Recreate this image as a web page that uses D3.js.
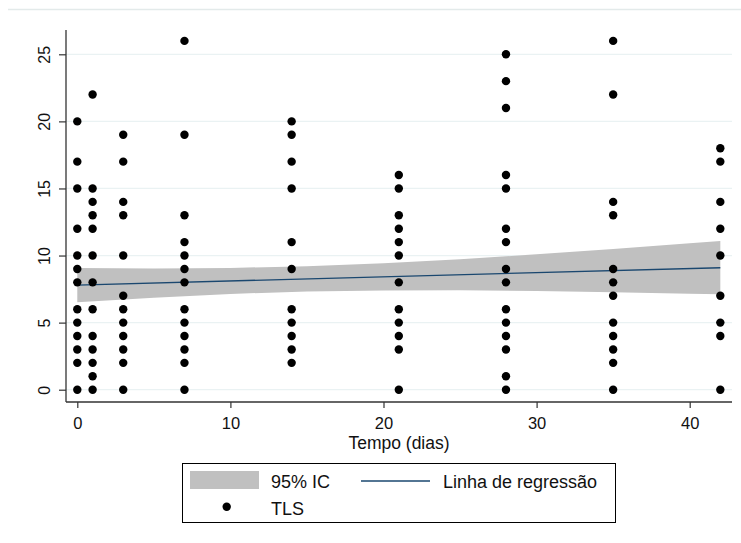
<!DOCTYPE html>
<html lang="pt">
  <head>
    <meta charset="UTF-8" />
    <title>TLS vs tempo</title>
    <style>
      body {
        margin: 0;
        background: #fff;
        font-family: "Liberation Sans", Arial, Helvetica, sans-serif;
      }
      svg {
        display: block;
      }
    </style>
  </head>
  <body>
    <script src="https://cdn.jsdelivr.net/npm/d3@7/dist/d3.min.js"></script>
    <script>
      // observation days and TLS values seen on each day
      var days = [0, 1, 3, 7, 14, 21, 28, 35, 42];
      var tlsByDay = [
        [20, 17, 15, 12, 10, 9, 8, 6, 5, 4, 3, 2, 0],
        [22, 15, 14, 13, 12, 10, 8, 6, 4, 3, 2, 1, 0],
        [19, 17, 14, 13, 10, 7, 6, 5, 4, 3, 2, 0],
        [26, 19, 13, 11, 10, 9, 8, 6, 5, 4, 3, 2, 0],
        [20, 19, 17, 15, 11, 9, 6, 5, 4, 3, 2],
        [16, 15, 13, 12, 11, 10, 8, 6, 5, 4, 3, 0],
        [25, 23, 21, 16, 15, 12, 11, 9, 8, 6, 5, 4, 3, 1, 0],
        [26, 22, 14, 13, 9, 8, 7, 5, 4, 3, 2, 0],
        [18, 17, 14, 12, 10, 7, 5, 4, 0]
      ];

      // regression line and 95% CI band
      var regX = [0, 42];
      var regY = [7.8, 9.09];
      var ciX = [0, 5, 10, 15, 20, 25, 30, 35, 40, 42];
      var ciLow = [6.52, 6.86, 7.14, 7.32, 7.4, 7.41, 7.35, 7.26, 7.15, 7.11];
      var ciHigh = [9.08, 9.04, 9.08, 9.2, 9.42, 9.73, 10.09, 10.48, 10.91, 11.08];

      var xTicks = [0, 10, 20, 30, 40];
      var yTicks = [0, 5, 10, 15, 20, 25];

      var W = 741, H = 543;
      var plotL = 66, plotR = 732, plotT = 30, plotB = 402;

      var svg = d3.select("body").append("svg")
        .attr("width", W)
        .attr("height", H);

      var x = d3.scaleLinear().domain([0, 40]).range([77.3, 689.7]);
      var y = d3.scaleLinear().domain([0, 25]).range([389.7, 54.3]);

      // faint frame line at top
      svg.append("line")
        .attr("x1", 8).attr("x2", W)
        .attr("y1", 9.5).attr("y2", 9.5)
        .attr("stroke", "#e3eaea")
        .attr("stroke-width", 1.5);

      // gridlines
      svg.selectAll("line.grid")
        .data(yTicks)
        .enter().append("line")
        .attr("class", "grid")
        .attr("x1", plotL).attr("x2", plotR)
        .attr("y1", function(d) { return y(d); })
        .attr("y2", function(d) { return y(d); })
        .attr("stroke", "#eaf2f3")
        .attr("stroke-width", 1.2);

      // CI band
      var ci = ciX.map(function(v, i) { return { x: v, lo: ciLow[i], hi: ciHigh[i] }; });
      svg.append("path")
        .datum(ci)
        .attr("fill", "#c0c0c0")
        .attr("d", d3.area()
          .x(function(d) { return x(d.x); })
          .y0(function(d) { return y(d.lo); })
          .y1(function(d) { return y(d.hi); }));

      // regression line
      svg.append("path")
        .datum(regX.map(function(v, i) { return [v, regY[i]]; }))
        .attr("fill", "none")
        .attr("stroke", "#1a476f")
        .attr("stroke-width", 1.3)
        .attr("d", d3.line()
          .x(function(d) { return x(d[0]); })
          .y(function(d) { return y(d[1]); }));

      // points
      var pts = [];
      days.forEach(function(d, i) {
        tlsByDay[i].forEach(function(v) { pts.push({ day: d, tls: v }); });
      });
      svg.selectAll("circle.pt")
        .data(pts)
        .enter().append("circle")
        .attr("class", "pt")
        .attr("cx", function(d) { return x(d.day); })
        .attr("cy", function(d) { return y(d.tls); })
        .attr("r", 4.2)
        .attr("fill", "#000");

      // axes
      var yAxis = svg.append("g")
        .attr("transform", "translate(" + plotL + ",0)")
        .call(d3.axisLeft(y).tickValues(yTicks).tickSize(7).tickPadding(3));
      yAxis.select(".domain").remove();
      yAxis.selectAll(".tick line").attr("stroke", "#333").attr("stroke-width", 1.2);
      yAxis.selectAll(".tick text")
        .attr("font-size", 16)
        .attr("font-family", "Liberation Sans, Arial, sans-serif")
        .attr("fill", "#111")
        .attr("text-anchor", "middle")
        .attr("dy", 0)
        .attr("x", 0)
        .attr("transform", "translate(-16,0) rotate(-90)");

      var xAxis = svg.append("g")
        .attr("transform", "translate(0," + plotB + ")")
        .call(d3.axisBottom(x).tickValues(xTicks).tickSize(6).tickPadding(5));
      xAxis.select(".domain").remove();
      xAxis.selectAll(".tick line").attr("stroke", "#333").attr("stroke-width", 1.2);
      xAxis.selectAll(".tick text")
        .attr("font-size", 16.5)
        .attr("font-family", "Liberation Sans, Arial, sans-serif")
        .attr("fill", "#111")
        .attr("dy", 0)
        .attr("y", 27);

      svg.append("line")
        .attr("x1", plotL).attr("x2", plotL)
        .attr("y1", plotT).attr("y2", plotB)
        .attr("stroke", "#333").attr("stroke-width", 1.3);
      svg.append("line")
        .attr("x1", plotL).attr("x2", plotR)
        .attr("y1", plotB).attr("y2", plotB)
        .attr("stroke", "#333").attr("stroke-width", 1.3);

      svg.append("text")
        .attr("x", (plotL + plotR) / 2)
        .attr("y", 448.5)
        .attr("text-anchor", "middle")
        .attr("font-size", 17.5)
        .attr("fill", "#111")
        .text("Tempo (dias)");

      // legend
      var lg = svg.append("g");
      lg.append("rect")
        .attr("x", 182.5).attr("y", 463.5)
        .attr("width", 433).attr("height", 59)
        .attr("fill", "#fff")
        .attr("stroke", "#000")
        .attr("stroke-width", 1);
      lg.append("rect")
        .attr("x", 190).attr("y", 471)
        .attr("width", 69).attr("height", 18)
        .attr("fill", "#c0c0c0");
      lg.append("text")
        .attr("x", 271).attr("y", 487.5)
        .attr("font-size", 18).attr("fill", "#111")
        .text("95% IC");
      lg.append("line")
        .attr("x1", 361).attr("x2", 430)
        .attr("y1", 481).attr("y2", 481)
        .attr("stroke", "#1a476f").attr("stroke-width", 1.3);
      lg.append("text")
        .attr("x", 443).attr("y", 487.5)
        .attr("font-size", 18).attr("fill", "#111")
        .text("Linha de regressão");
      lg.append("circle")
        .attr("cx", 226.7).attr("cy", 506.7)
        .attr("r", 4.2).attr("fill", "#000");
      lg.append("text")
        .attr("x", 271).attr("y", 514.5)
        .attr("font-size", 18).attr("fill", "#111")
        .text("TLS");
    </script>
  </body>
</html>
